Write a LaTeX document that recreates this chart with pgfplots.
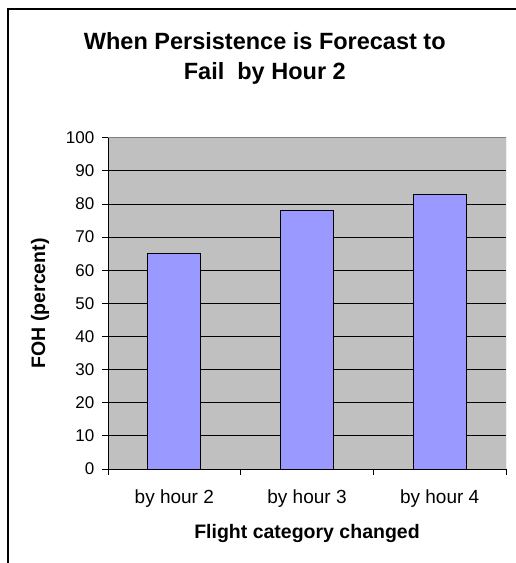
\documentclass[border=0pt]{standalone}
\usepackage{fontspec}
\setmainfont{Liberation Sans}
\usepackage{pgfplots}
\pgfplotsset{compat=1.18}
\definecolor{barblue}{HTML}{9999FF}
\definecolor{plotgray}{HTML}{C0C0C0}
\definecolor{bordergray}{HTML}{808080}
\begin{document}
\begin{tikzpicture}
\useasboundingbox (0,0) rectangle (516bp,563bp);
\draw[black, line width=1.3bp] (8bp,0) -- (8bp,554bp) -- (516bp,554bp);
\begin{axis}[
  at={(108bp,94bp)}, anchor=south west,
  scale only axis, width=398bp, height=331.3bp,
  xmin=-0.5, xmax=2.5, ymin=0, ymax=100,
  axis lines=left, axis line style={-, black, line width=0.9bp},
  axis background/.style={fill=plotgray},
  ytick={0,10,...,100},
  xtick={-0.5,0.5,1.5,2.5}, xticklabels={},
  extra x ticks={0,1,2},
  extra x tick labels={by hour 2,by hour 3,by hour 4},
  extra x tick style={major tick length=0pt},
  tick align=outside,
  major tick length=5.5bp,
  tick style={black, line width=0.9bp},
  ymajorgrids, grid style={black, line width=0.9bp},
  /pgf/number format/assume math mode=true,
  yticklabel style={font=\fontsize{17bp}{20bp}\selectfont, anchor=east, inner sep=0pt, xshift=-8bp},
  xticklabel style={font=\fontsize{19bp}{22bp}\selectfont, anchor=base, inner sep=0pt, yshift=-34bp},
  xlabel={Flight category changed},
  ylabel={FOH (percent)},
  xlabel style={font=\bfseries\fontsize{19.5bp}{23bp}\selectfont, at={(rel axis cs:0.5,0)}, anchor=base, inner sep=0pt, yshift=-69.5bp},
  ylabel style={font=\bfseries\fontsize{19.5bp}{23bp}\selectfont, at={(rel axis cs:0,0.5)}, anchor=center, inner sep=0pt, yshift=68bp},
  title={When Persistence is Forecast to\\Fail\ \ by Hour 2},
  title style={font=\bfseries\fontsize{23.5bp}{29.5bp}\selectfont, align=center, at={(rel axis cs:0.394,1)}, anchor=north, inner sep=0pt, yshift=99bp},
]
\addplot[ybar, bar width=53bp, fill=barblue, draw=black, line width=1bp] coordinates {(0,65) (1,78) (2,83)};
\draw[bordergray, line width=1bp] (rel axis cs:0,1) -- (rel axis cs:1,1) -- (rel axis cs:1,0);
\end{axis}
\end{tikzpicture}
\end{document}
